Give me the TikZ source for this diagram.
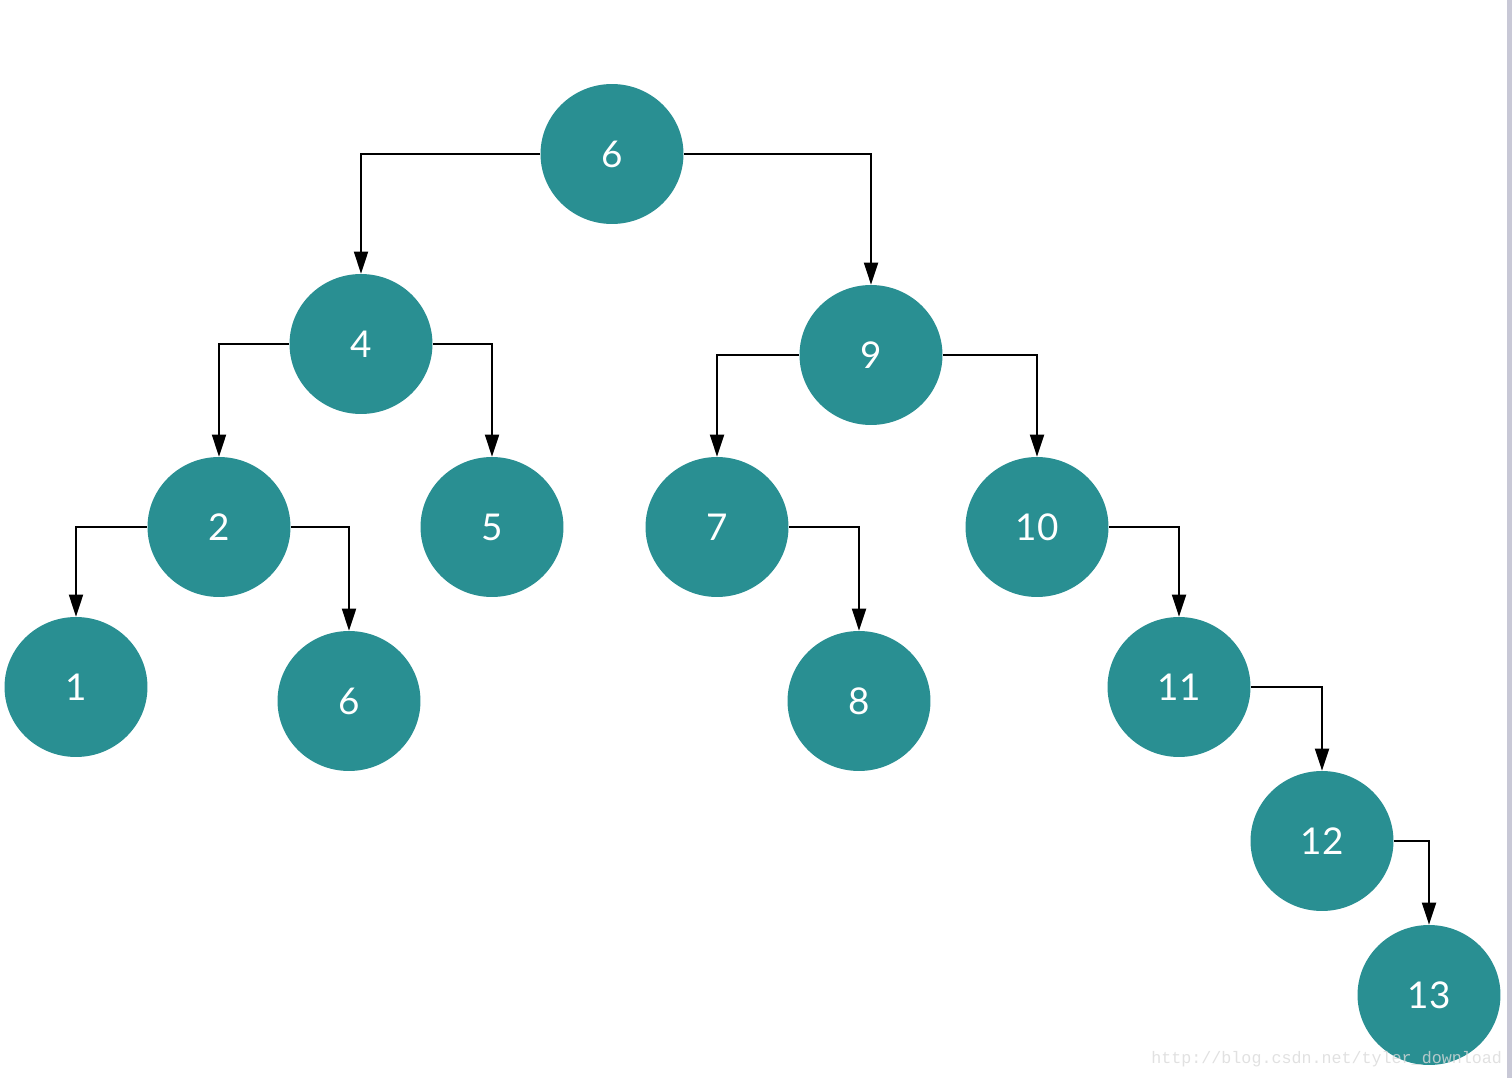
\documentclass[tikz,border=0pt]{standalone}
\usepackage{fontspec}
\setmainfont{Lato}
\newfontfamily\wmfont{Liberation Mono}
\usetikzlibrary{arrows.meta,shapes.geometric}
\definecolor{nodeteal}{RGB}{41,143,146}
\definecolor{edgebar}{RGB}{200,200,214}
\begin{document}
\begin{tikzpicture}[x=0.02cm,y=-0.02cm,
  nd/.style={ellipse,fill=nodeteal,text=white,inner sep=0pt,
    minimum width=2.86cm,minimum height=2.8cm,font=\fontsize{21}{25}\selectfont},
  br/.style={-{Triangle[length=0.44cm,width=0.28cm]},line width=1.1pt}]
\useasboundingbox (0,0) rectangle (1512,1078);
\fill[edgebar] (1507,0) rectangle (1512,1078);
% nodes of the tree
\node[nd] (n6) at (612,154) {6};
\node[nd] (n4) at (361,344) {4};
\node[nd] (n9) at (871,355) {9};
\node[nd] (n2) at (219,527) {2};
\node[nd] (n5) at (492,527) {5};
\node[nd] (n7) at (717,527) {7};
\node[nd] (n10) at (1037,527) {10};
\node[nd] (n1) at (76,687) {1};
\node[nd] (n6b) at (349,701) {6};
\node[nd] (n8) at (859,701) {8};
\node[nd] (n11) at (1179,687) {11};
\node[nd] (n12) at (1322,841) {12};
\node[nd] (n13) at (1429,995) {13};
% branches
\draw[br] (n6.west) -| (n4.north);
\draw[br] (n6.east) -| (n9.north);
\draw[br] (n4.west) -| (n2.north);
\draw[br] (n4.east) -| (n5.north);
\draw[br] (n9.west) -| (n7.north);
\draw[br] (n9.east) -| (n10.north);
\draw[br] (n2.west) -| (n1.north);
\draw[br] (n2.east) -| (n6b.north);
\draw[br] (n7.east) -| (n8.north);
\draw[br] (n10.east) -| (n11.north);
\draw[br] (n11.east) -| (n12.north);
\draw[br] (n12.east) -| (n13.north);
\node[anchor=base west,inner sep=0pt,text=gray!30,opacity=0.8,
  font=\wmfont\fontsize{9.5}{11}\selectfont] (wm) at (1151,1063) {http://blog.csdn.net/tyler\_download};
\end{tikzpicture}
\end{document}
